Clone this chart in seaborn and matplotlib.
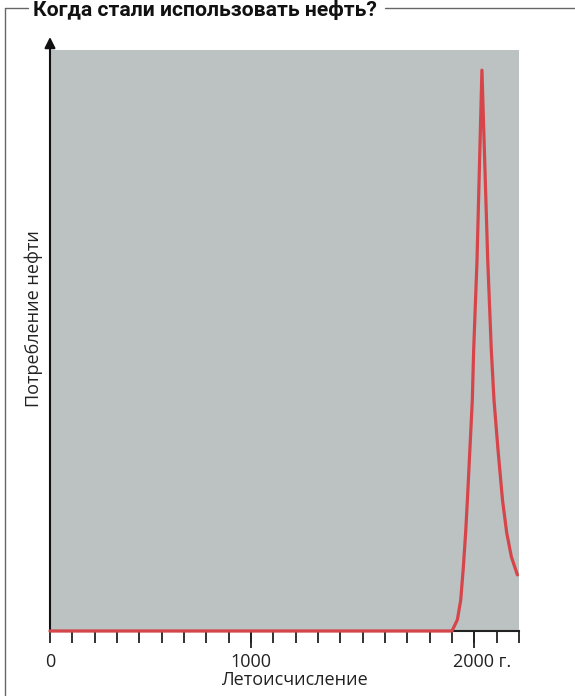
import matplotlib
matplotlib.use("Agg")
import matplotlib.pyplot as plt
import matplotlib.transforms as mtransforms
from matplotlib.lines import Line2D
import seaborn as sns
import pandas as pd

# Oil consumption over time (relative units, peak = 100)
years = [100, 1900, 1924, 1939, 1951, 1961, 1969, 1980, 1991, 1997, 2012,
         2034, 2060, 2076, 2088, 2106, 2126, 2145, 2166, 2193]
consumption = [0, 0, 2.0, 5.5, 11.5, 17.5, 23.4, 32.3, 41.2, 50.1, 66.1,
               100, 66.1, 50.1, 41.2, 32.3, 23.4, 17.5, 13.2, 10.0]

tick_years = list(range(100, 2201, 100))
major_years = [1000, 2000]
tick_labels = {100: "0", 1000: "1000", 2000: "2000 г."}

title = "Когда стали использовать нефть?"
xlabel = "Летоисчисление"
ylabel = "Потребление нефти"

sns.set_theme(style="white", rc={"axes.facecolor": "#bcc1c1"})
plt.rcParams["font.family"] = ["Open Sans", "DejaVu Sans"]

W, H = 575, 696
fig = plt.figure(figsize=(W / 100, H / 100), dpi=100)
ax = fig.add_axes([50 / W, (H - 631) / H, 469 / W, 581 / H])

df = pd.DataFrame({"year": years, "value": consumption})
sns.lineplot(data=df, x="year", y="value", ax=ax, color="#d6454a", lw=2.3,
             clip_on=False, zorder=5)

ax.set_xlim(100, 2200)
ax.set_ylim(0, 103.6)
ax.set_xlabel("")
ax.set_ylabel("")

for side in ["top", "right", "left"]:
    ax.spines[side].set_visible(False)
ax.spines["bottom"].set_color("#222222")
ax.spines["bottom"].set_linewidth(1.5)

ax.set_yticks([])
ax.set_xticks(tick_years)
ax.set_xticklabels([tick_labels.get(y, "") for y in tick_years])
ax.xaxis.remove_overlapping_locs = False
ax.set_xticks(major_years, minor=True)
ax.tick_params(axis="x", which="major", direction="out", length=8.5, width=1.3,
               color="#222222", labelsize=13, labelcolor="#222222", pad=7, bottom=True)
ax.tick_params(axis="x", which="minor", direction="out", length=12, width=1.3,
               color="#222222", bottom=True)

# shift "2000 г." so the digits sit centred on their tick
for t in ax.get_xticklabels():
    if t.get_text() == "2000 г.":
        off = mtransforms.ScaledTranslation(8 / 100, 0, fig.dpi_scale_trans)
        t.set_transform(t.get_transform() + off)

# vertical axis with arrowhead
ax.annotate("", xy=(0, 1 + 13 / 581), xycoords="axes fraction",
            xytext=(0, 0), textcoords="axes fraction",
            arrowprops=dict(arrowstyle="-|>", color="#111111", lw=1.5,
                            mutation_scale=16, shrinkA=0, shrinkB=0),
            annotation_clip=False)

ax.text((294 - 50) / 469, -49 / 581, xlabel, transform=ax.transAxes,
        ha="center", va="center", fontsize=13, color="#222222")
fig.text(34 / W, 1 - 319 / H, ylabel, rotation=90, ha="center", va="center",
         fontsize=13, color="#222222")

# outer frame with title
fig.text(33 / W, 1 - 15.5 / H, title, ha="left", va="baseline", fontsize=15.2,
         fontweight="bold", family=["Roboto", "DejaVu Sans"], color="#111111")
frame_kw = dict(color="#666666", lw=1.0, transform=fig.transFigure)
fig.add_artist(Line2D([5 / W, 5 / W], [1 - 8 / H, 0], **frame_kw))
fig.add_artist(Line2D([5 / W, 28 / W], [1 - 8 / H, 1 - 8 / H], **frame_kw))
fig.add_artist(Line2D([385 / W, 1], [1 - 8 / H, 1 - 8 / H], **frame_kw))

fig.savefig("out.png", dpi=100)
